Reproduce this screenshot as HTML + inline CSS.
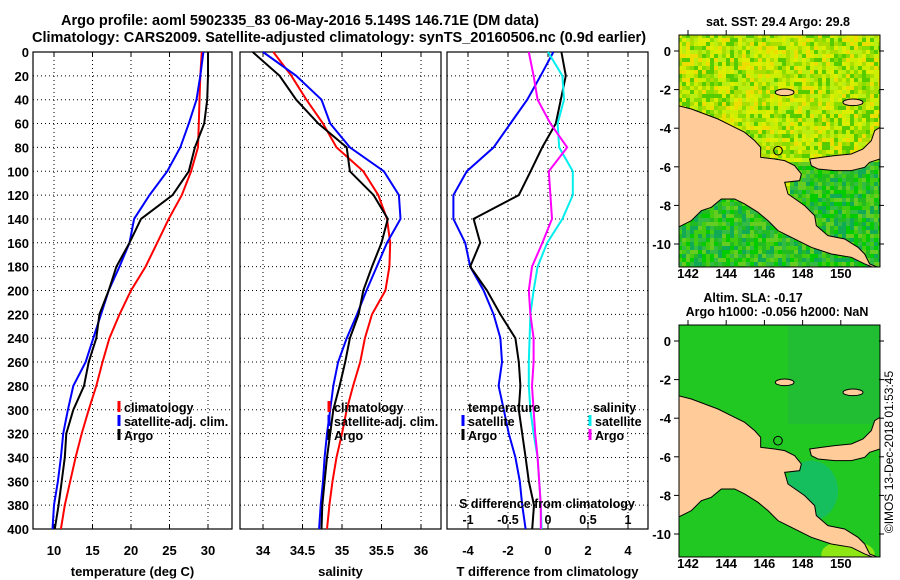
<!DOCTYPE html>
<html><head><meta charset="utf-8"><style>
body{margin:0;background:#fff;}
svg{display:block;font-family:"Liberation Sans",sans-serif;font-weight:bold;}
</style></head><body>
<svg id="c" width="900" height="580" viewBox="0 0 900 580" xmlns="http://www.w3.org/2000/svg">
<text x="300" y="25" font-size="14.5" text-anchor="middle">Argo profile: aoml 5902335_83 06-May-2016 5.149S 146.71E (DM data)</text>
<text x="339" y="42" font-size="14.5" text-anchor="middle">Climatology: CARS2009. Satellite-adjusted climatology: synTS_20160506.nc (0.9d earlier)</text>
<g id="maps"></g>
<g id="plots"></g>
</svg>
<script>
const depths=[0,20,40,60,80,100,120,140,160,180,200,220,240,260,280,300,320,340,360,380,400];
const tClim=[29.2,29.0,28.9,28.8,28.7,27.8,26.6,24.9,23.4,21.9,20.0,18.5,17.2,16.3,15.5,14.5,13.6,12.8,12.1,11.4,10.9];
const tSat=[29.4,29.0,28.5,27.5,26.4,24.7,22.4,20.4,19.8,18.5,17.1,16.1,15.1,14.1,12.5,11.8,11.2,10.9,10.5,10.0,9.8];
const tArgo=[30.0,30.0,29.9,29.5,28.3,27.5,25.4,21.3,19.8,18.1,17.1,15.9,15.5,14.5,13.9,12.5,11.6,11.4,11.0,10.6,10.1];
const sClim=[34.13,34.36,34.55,34.76,34.93,35.27,35.46,35.57,35.61,35.60,35.55,35.38,35.29,35.23,35.14,35.06,35.00,34.93,34.88,34.84,34.81];
const sSat=[34.0,34.42,34.74,34.85,35.10,35.53,35.72,35.74,35.57,35.44,35.31,35.19,35.06,34.95,34.89,34.85,34.81,34.78,34.76,34.73,34.71];
const sArgo=[33.87,34.21,34.42,34.70,35.06,35.10,35.40,35.58,35.50,35.38,35.27,35.21,35.10,35.04,34.97,34.89,34.85,34.81,34.78,34.75,34.74];
const dTSat=[0.27,-0.37,-1.04,-1.88,-2.72,-4.06,-4.73,-4.73,-4.14,-3.89,-3.22,-2.72,-2.38,-2.30,-2.47,-2.21,-1.96,-1.63,-1.41,-1.29,-1.12];
const dTArgo=[0.67,0.89,0.64,0.39,-0.29,-0.87,-1.46,-3.72,-3.39,-3.89,-3.05,-2.38,-1.63,-1.46,-1.38,-1.46,-1.29,-1.12,-0.96,-0.70,-0.79];
const dSSat=[0.0,0.18,0.2,0.12,0.14,0.31,0.31,0.18,-0.01,-0.13,-0.18,-0.22,-0.23,-0.24,-0.24,-0.22,-0.18,-0.13,-0.11,-0.09,-0.08];
const dSArgo=[-0.24,-0.18,-0.13,0.03,0.24,0.01,0.03,0.05,-0.07,-0.2,-0.24,-0.22,-0.18,-0.18,-0.2,-0.18,-0.16,-0.13,-0.11,-0.09,-0.09];
const depthTicks=[0,20,40,60,80,100,120,140,160,180,200,220,240,260,280,300,320,340,360,380,400];
const tTicks=[10,15,20,25,30];
const sTicks=[34,34.5,35,35.5,36];
const dTTicks=[-4,-2,0,2,4];
const dSTicks=[-1,-0.5,0,0.5,1];
const latTicks=[0,-2,-4,-6,-8,-10];
const lonTicks=[142,144,146,148,150];

const NS='http://www.w3.org/2000/svg';
const plots=document.getElementById('plots');
function el(tag,attrs,parent){const e=document.createElementNS(NS,tag);for(const k in attrs)e.setAttribute(k,attrs[k]);(parent||plots).appendChild(e);return e;}
const Y0=52,Y1=529;
const yS=d=>Y0+(d/400)*(Y1-Y0);
function lin(d0,d1,r0,r1){return v=>r0+(v-d0)/(d1-d0)*(r1-r0);}

function panel(name,x0,x1,xs,ticks,tickFmt,labelY,xlabel,showY){
  const g=el('g',{});
  
  
  depthTicks.forEach(d=>{
    const l=el('line',{x1:x0,x2:x1,y1:yS(d),y2:yS(d),stroke:'#000','stroke-width':1,'stroke-dasharray':'1,3'},g);
    
    
    if(showY){
      const t=el('text',{x:29,y:yS(d)+5,'font-size':13,'text-anchor':'end'},g);
      t.textContent=d;
      
      
    }
  });
  ticks.forEach(v=>{
    const x=xs(v);
    const l=el('line',{x1:x,x2:x,y1:Y0,y2:Y1,stroke:'#000','stroke-width':1,'stroke-dasharray':'1,3'},g);
    
    
    el('line',{x1:x,x2:x,y1:Y1,y2:Y1-4,stroke:'#000'},g);
    el('line',{x1:x,x2:x,y1:Y0,y2:Y0+4,stroke:'#000'},g);
    const t=el('text',{x:x,y:labelY,'font-size':13,'text-anchor':'middle'},g);
    t.textContent=tickFmt(v);
    
    
  });
  const r=el('rect',{x:x0,y:Y0,width:x1-x0,height:Y1-Y0,fill:'none',stroke:'#000','stroke-width':1.2},g);
  
  
  const xl=el('text',{x:(x0+x1)/2,y:576,'font-size':13,'text-anchor':'middle'},g);
  xl.textContent=xlabel;
  
  
  return g;
}
function series(g,vals,xs,color,name){
  const pts=vals.map((v,i)=>xs(v).toFixed(1)+','+yS(depths[i]).toFixed(1)).join(' ');
  const p=el('polyline',{points:pts,fill:'none',stroke:color,'stroke-width':2},g);
  
  
}
function legend(g,x,y,color,label,name){
  const b=el('line',{x1:x,x2:x,y1:y-11,y2:y,stroke:color,'stroke-width':3},g);
  const t=el('text',{x:x+5,y:y,'font-size':12.5},g);
  t.textContent=label;
  
  
}

const xT=lin(10,30,54,208);
const g1=panel('temperature-panel',33,232,xT,tTicks,v=>v,555,'temperature (deg C)',true);
series(g1,tClim,xT,'#f00','climatology-temperature-line');
series(g1,tSat,xT,'#00f','satellite-temperature-line');
series(g1,tArgo,xT,'#000','argo-temperature-line');
legend(g1,119,412,'#f00','climatology','legend-climatology');
legend(g1,119,426,'#00f','satellite-adj. clim.','legend-satellite');
legend(g1,119,440,'#000','Argo','legend-argo');

const xS=lin(34,36,263,421);
const g2=panel('salinity-panel',240,441,xS,sTicks,v=>v,555,'salinity',false);
series(g2,sClim,xS,'#f00','climatology-salinity-line');
series(g2,sSat,xS,'#00f','satellite-salinity-line');
series(g2,sArgo,xS,'#000','argo-salinity-line');
legend(g2,329,412,'#f00','climatology','legend-climatology');
legend(g2,329,426,'#00f','satellite-adj. clim.','legend-satellite');
legend(g2,329,440,'#000','Argo','legend-argo');

const xD=lin(-4,4,468,628);
const xDS=v=>xD(v*4);
const g3=panel('difference-panel',447,648,xD,dTTicks,v=>v,555,'T difference from climatology',false);
series(g3,dTSat,xD,'#00f','temperature-satellite-diff-line');
series(g3,dTArgo,xD,'#000','temperature-argo-diff-line');
series(g3,dSSat,xDS,'#0ee','salinity-satellite-diff-line');
series(g3,dSArgo,xDS,'#f0f','salinity-argo-diff-line');
const st=el('text',{x:547,y:508,'font-size':12.5,'text-anchor':'middle'},g3);st.textContent='S difference from climatology';

dSTicks.forEach(v=>{const t=el('text',{x:xDS(v),y:524,'font-size':12.5,'text-anchor':'middle'},g3);t.textContent=v;
});
const th=el('text',{x:468,y:412,'font-size':12.5},g3);th.textContent='temperature';

const sh=el('text',{x:593,y:412,'font-size':12.5},g3);sh.textContent='salinity';

legend(g3,463,426,'#00f','satellite','legend-t-satellite');
legend(g3,463,440,'#000','Argo','legend-t-argo');
legend(g3,590,426,'#0ee','satellite','legend-s-satellite');
legend(g3,590,440,'#f0f','Argo','legend-s-argo');

const maps=document.getElementById('maps');
const mainland="0,215 40,225 80,240 120,255 160,275 200,295 230,320 248,340 248,370 290,375 320,380 350,395 370,420 365,440 320,445 330,480 380,515 410,545 415,575 450,605 500,615 540,640 560,660 575,690 600,700 606,700 606,708 560,690 520,670 460,660 400,640 340,610 300,590 270,560 240,535 200,510 170,495 130,495 100,520 70,530 40,560 0,580";
const nbritain="395,375 430,370 470,365 520,360 555,345 580,320 590,290 606,280 606,375 575,385 560,400 520,410 470,410 420,405 400,395";
function hash(i,j){let h=(i*374761393+j*668265263)^0x5bd1e995;h=(h^(h>>>13))*1274126177;return ((h^(h>>>16))>>>0)/4294967296;}
function drawMap(oy,kind,name){
  const g=document.createElementNS(NS,'g');maps.appendChild(g);
  
  
  const inner=el('g',{transform:`translate(678,${oy}) scale(0.3333)`},g);
  const cp=el('clipPath',{id:'clip'+oy},inner);
  el('rect',{x:3,y:3,width:603,height:696},cp);
  const c=el('g',{'clip-path':`url(#clip${oy})`},inner);
  if(kind===1){
    const A=['#ccee00','#aadd00','#88dd00','#ddee00','#55cc00','#eedd00','#bbee11'];
    const B=['#22bb22','#00cc00','#33bb44','#66cc22','#11aa55','#44cc11'];
    for(let j=0;j<59;j++)for(let i=0;i<51;i++){
      const pal=j*12<470&&!(i*12>330&&j*12>380)?A:B;
      const col=pal[Math.floor(hash(i,j)*pal.length)];
      el('rect',{x:i*12,y:j*12,width:12.5,height:12.5,fill:col},c);
    }
  } else {
    el('rect',{x:0,y:0,width:606,height:708,fill:'#22c822'},c);
    el('rect',{x:330,y:0,width:276,height:300,fill:'#22b540',opacity:0.6},c);
    el('ellipse',{cx:400,cy:500,rx:80,ry:90,fill:'#11bb77',opacity:0.7},c);
    el('ellipse',{cx:510,cy:690,rx:80,ry:40,fill:'#aaee11',opacity:0.8},c);
  }
  el('polygon',{points:mainland,fill:'#fc9',stroke:'#000','stroke-width':3},c);
  el('polygon',{points:nbritain,fill:'#fc9',stroke:'#000','stroke-width':3},c);
  el('ellipse',{cx:320,cy:175,rx:28,ry:10,fill:'#fc9',stroke:'#000','stroke-width':3},c);
  el('ellipse',{cx:525,cy:205,rx:30,ry:10,fill:'#fc9',stroke:'#000','stroke-width':3},c);
  el('circle',{cx:300,cy:350,r:13,fill:'none',stroke:'#000','stroke-width':3},c);
  el('rect',{x:3,y:3,width:603,height:696,fill:'none',stroke:'#000','stroke-width':3},inner);
  const lat=v=>oy+17-v*19.3, lon=v=>688+(v-142)*19.1;
  latTicks.forEach(v=>{
    const t=el('text',{x:671,y:lat(v)+5,'font-size':13,'text-anchor':'end'},g);t.textContent=v;
    
    el('line',{x1:679,x2:674,y1:lat(v),y2:lat(v),stroke:'#000'},g);
    el('line',{x1:879,x2:884,y1:lat(v),y2:lat(v),stroke:'#000'},g);
  });
  lonTicks.forEach(v=>{
    const t=el('text',{x:lon(v),y:oy+244,'font-size':13,'text-anchor':'middle'},g);t.textContent=v;
    
    el('line',{x1:lon(v),x2:lon(v),y1:oy+1,y2:oy-4,stroke:'#000'},g);
  });
}
drawMap(34,1,'sst-map');
drawMap(324,2,'sla-map');
const mt=document.createElementNS(NS,'text');maps.appendChild(mt);
mt.setAttribute('x','778');mt.setAttribute('y','26');mt.setAttribute('font-size','12.5');mt.setAttribute('text-anchor','middle');
mt.textContent='sat. SST: 29.4 Argo: 29.8';


const m2=document.createElementNS(NS,'text');maps.appendChild(m2);
m2.setAttribute('x','753');m2.setAttribute('y','302');m2.setAttribute('font-size','12.5');m2.setAttribute('text-anchor','middle');
m2.textContent='Altim. SLA: -0.17';


const m3=document.createElementNS(NS,'text');maps.appendChild(m3);
m3.setAttribute('x','777');m3.setAttribute('y','316');m3.setAttribute('font-size','12.5');m3.setAttribute('text-anchor','middle');
m3.textContent='Argo h1000: -0.056 h2000: NaN';


const cpt=document.createElementNS(NS,'text');maps.appendChild(cpt);
cpt.setAttribute('transform','translate(893,452) rotate(-90)');cpt.setAttribute('font-size','12');cpt.setAttribute('font-weight','normal');cpt.setAttribute('text-anchor','middle');
cpt.textContent='©IMOS 13-Dec-2018 01:53:45';


</script>
</body></html>
